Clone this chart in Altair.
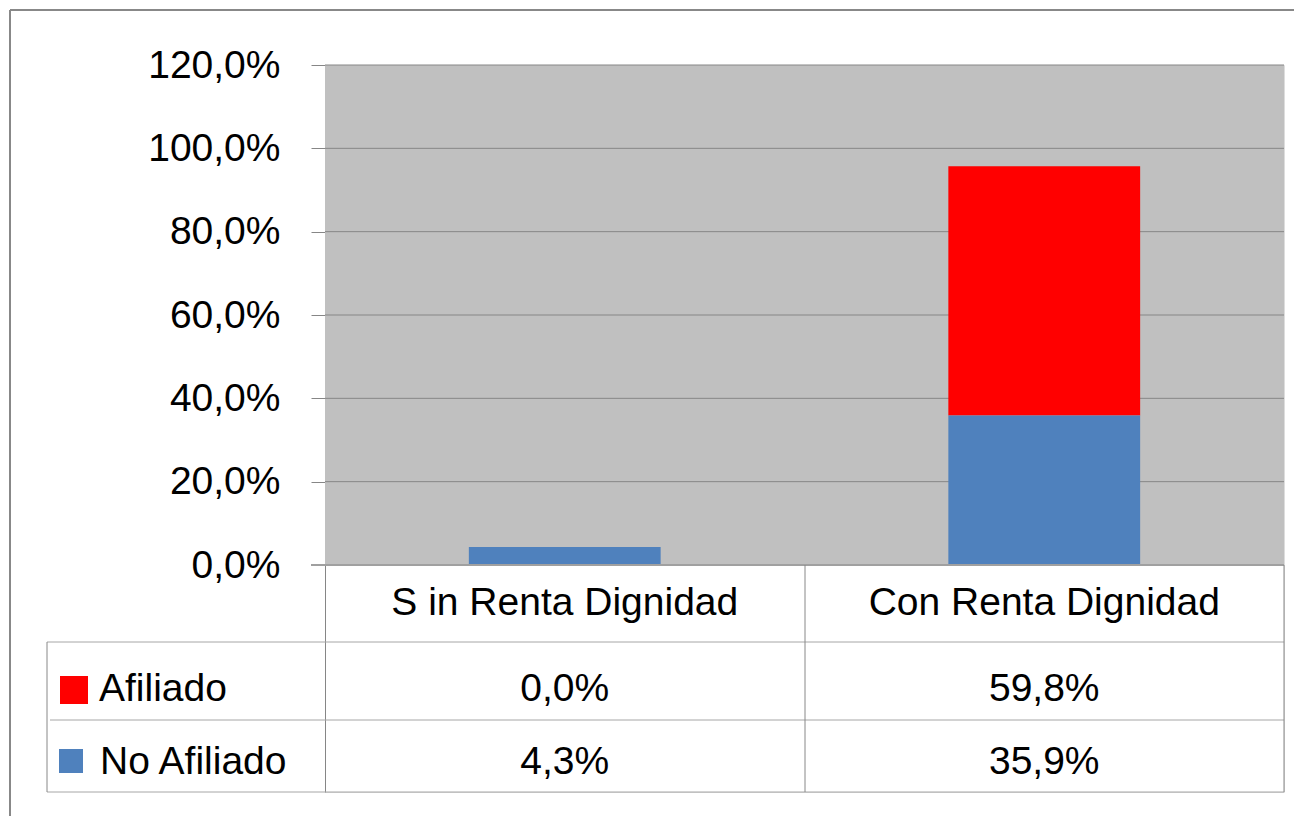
import altair as alt
import pandas as pd

categories = ["S in Renta Dignidad", "Con Renta Dignidad"]
series = ["Afiliado", "No Afiliado"]
afiliado = [0.0, 59.8]
no_afiliado = [4.3, 35.9]
y_ticks = [0, 20, 40, 60, 80, 100, 120]
colors = ["#FF0000", "#4F81BD"]

FONT = "Liberation Sans"
FS = 39
W, H = 959, 727
Y_MIN = -54.48

rows = []
for i, c in enumerate(categories):
    rows.append({"cat": c, "series": "Afiliado", "value": afiliado[i], "order": 1})
    rows.append({"cat": c, "series": "No Afiliado", "value": no_afiliado[i], "order": 0})
df = pd.DataFrame(rows)
df["label"] = df["value"].map(lambda v: f"{v:.1f}".replace(".", ",") + "%")

ydf = pd.DataFrame({"v": y_ticks})
cat_df = pd.DataFrame({"cat": categories})
ser_df = pd.DataFrame({"series": series})

xscale = alt.Scale(domain=categories, paddingInner=0.6, paddingOuter=0.3)
yscale = alt.Scale(domain=[Y_MIN, 120], nice=False, zero=False)
cscale = alt.Scale(domain=series, range=colors)

one = alt.Data(values=[{"a": 1}])


def hline(y, x1, x2, color="#A6A6A6", w=1):
    return alt.Chart(one).mark_rule(color=color, strokeWidth=w).encode(
        x=alt.value(x1), x2=alt.value(x2), y=alt.value(y))


def vline(x, y1, y2, color="#A6A6A6", w=1):
    return alt.Chart(one).mark_rule(color=color, strokeWidth=w).encode(
        x=alt.value(x), y=alt.value(y1), y2=alt.value(y2))


bg = alt.Chart(one).mark_rect(color="#C0C0C0").encode(
    x=alt.value(0), x2=alt.value(W),
    y=alt.datum(0, scale=yscale), y2=alt.datum(120))

grid = alt.Chart(ydf).transform_filter("datum.v > 0").mark_rule(
    color="#868686", strokeWidth=1).encode(
    y=alt.Y("v:Q", scale=yscale,
            axis=alt.Axis(values=y_ticks, grid=False, title=None,
                          labelExpr="replace(format(datum.value, '.1f'), '.', ',') + '%'",
                          labelFont=FONT, labelFontSize=FS, labelColor="black",
                          labelPadding=31, tickSize=14, tickColor="#868686",
                          domainColor="#868686", labelBaseline="middle")))

bars = alt.Chart(df).mark_bar().encode(
    x=alt.X("cat:N", scale=xscale, axis=None, sort=categories),
    y=alt.Y("value:Q", scale=yscale, stack="zero"),
    color=alt.Color("series:N", scale=cscale, legend=None),
    order=alt.Order("order:Q"),
)

cat_text = alt.Chart(cat_df).mark_text(font=FONT, fontSize=FS, color="black",
                                       baseline="middle").encode(
    x=alt.X("cat:N", scale=xscale, axis=None, sort=categories), y=alt.value(538),
    text="cat:N")

val_a = alt.Chart(df).transform_filter("datum.series == 'Afiliado'").mark_text(
    font=FONT, fontSize=FS, color="black", baseline="middle").encode(
    x=alt.X("cat:N", scale=xscale, axis=None, sort=categories), y=alt.value(624),
    text="label:N")
val_n = alt.Chart(df).transform_filter("datum.series == 'No Afiliado'").mark_text(
    font=FONT, fontSize=FS, color="black", baseline="middle").encode(
    x=alt.X("cat:N", scale=xscale, axis=None, sort=categories), y=alt.value(697),
    text="label:N")

sq_a = alt.Chart(ser_df).transform_filter("datum.series == 'Afiliado'").mark_square(
    size=784, opacity=1).encode(
    x=alt.value(-251), y=alt.value(625),
    color=alt.Color("series:N", scale=cscale, legend=None))
sq_n = alt.Chart(ser_df).transform_filter("datum.series == 'No Afiliado'").mark_square(
    size=576, opacity=1).encode(
    x=alt.value(-254), y=alt.value(696),
    color=alt.Color("series:N", scale=cscale, legend=None))

leg_a = alt.Chart(ser_df).transform_filter("datum.series == 'Afiliado'").mark_text(
    font=FONT, fontSize=FS, color="black", align="left", baseline="middle").encode(
    x=alt.value(-226), y=alt.value(624), text="series:N")
leg_n = alt.Chart(ser_df).transform_filter("datum.series == 'No Afiliado'").mark_text(
    font=FONT, fontSize=FS, color="black", align="left", baseline="middle").encode(
    x=alt.value(-225), y=alt.value(697), text="series:N")

lines = [
    hline(500, -14, W, "#A0A0A0", 2),
    hline(577, -278, W),
    hline(655, -275, W),
    hline(727, -278, W),
    vline(480, 500, 727, "#888888"),
    vline(W, 500, 727, "#888888"),
    vline(-278, 577, 727, "#888888"),
    hline(-55, -315, 977, "#888888", 2),
    vline(-315, -55, 760, "#888888", 2),
]

chart = alt.layer(bg, grid, bars, *lines, cat_text, val_a, val_n, sq_a, sq_n,
                  leg_a, leg_n).properties(
    width=W, height=H,
    autosize=alt.AutoSizeParams(type="none"),
    padding={"left": 317, "top": 57, "right": 10, "bottom": 24},
).configure_view(stroke=None).configure(background="white")

chart.save("out.html", embed_options={"renderer": "svg", "actions": False})
